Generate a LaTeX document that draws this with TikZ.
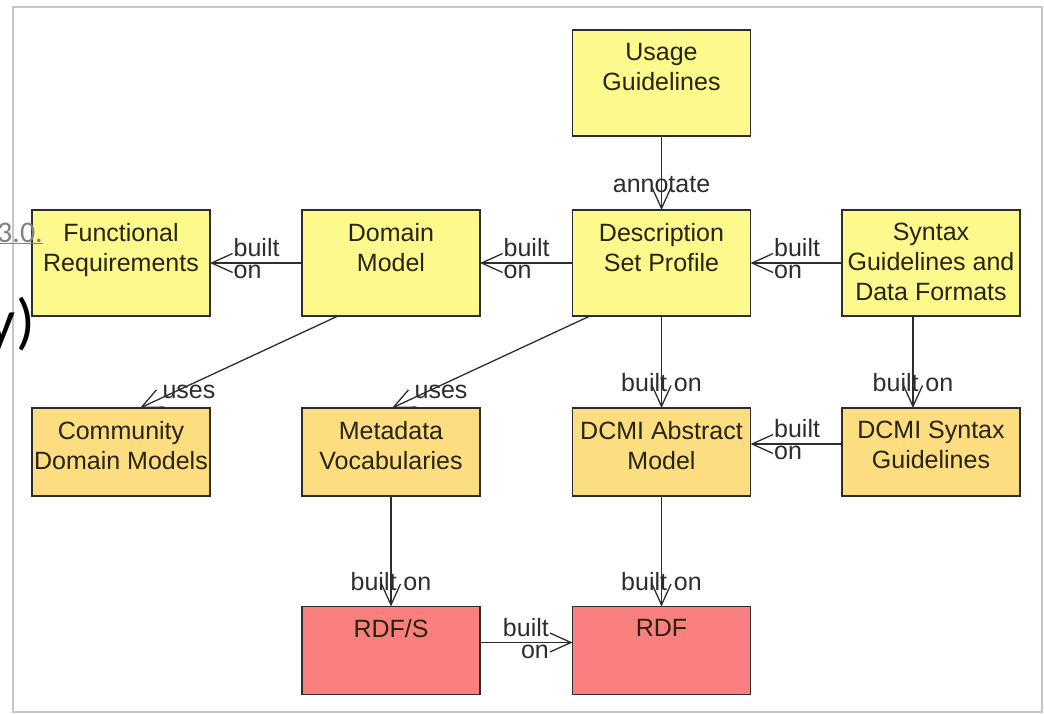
\documentclass[tikz,border=0pt]{standalone}
\usepackage{fontspec}
\setmainfont{Liberation Sans}
\newfontfamily\pagefont{Carlito}
\usetikzlibrary{arrows.meta}
\definecolor{boxyellow}{RGB}{252,250,140}
\definecolor{boxorange}{RGB}{252,222,128}
\definecolor{boxred}{RGB}{250,128,128}
\definecolor{inktext}{RGB}{40,35,15}
\definecolor{inkline}{RGB}{45,45,45}

\begin{document}
\begin{tikzpicture}[x=1pt,y=-1pt,
    box/.style={draw=inkline,line width=1.4pt,minimum width=178pt,inner sep=0pt,outer sep=0pt},
    txt/.style={anchor=north,yshift=-13pt,inner sep=0pt,align=center,text=inktext,
      font=\fontsize{25}{30}\selectfont},
    ylw/.style={box,minimum height=106pt,fill=boxyellow,label={[txt]90:{#1}}},
    org/.style={box,minimum height=88pt,fill=boxorange,label={[txt]90:{#1}}},
    red/.style={box,minimum height=88pt,fill=boxred,label={[txt]90:{#1}}},
    conn/.style={draw=inkline,line width=1.3pt,
      -{Straight Barb[length=21pt,width=19pt,line width=1.3pt]}},
    lbl/.style={inner sep=0pt,text=inkline,font=\fontsize{25}{22}\selectfont},
  ]
  \useasboundingbox (0,0) rectangle (1044,714);
  \draw[gray!45,line width=2.5pt] (13,7) rectangle (1042,712);

  \node[ylw={Usage\\Guidelines}] (usage) at (661.5,83) {};
  \node[ylw={Functional\\Requirements}] (fr) at (121,263) {};
  \node[ylw={Domain\\Model}] (dm) at (391,263) {};
  \node[ylw={Description\\Set Profile}] (dsp) at (661.5,263) {};
  \node[ylw={Syntax\\Guidelines and\\Data Formats}] (syn) at (931,263) {};
  \node[org={Community\\Domain Models}] (cdm) at (121,452) {};
  \node[org={Metadata\\Vocabularies}] (mv) at (391,452) {};
  \node[org={DCMI Abstract\\Model}] (dam) at (661.5,452) {};
  \node[org={DCMI Syntax\\Guidelines}] (dsg) at (931,452) {};
  \node[red={RDF/S}] (rdfs) at (391,650.5) {};
  \node[red={RDF}] (rdf) at (661.5,650.5) {};

  \draw[conn] (usage) -- node[lbl,at end,yshift=25pt]{annotate} (dsp);
  \draw[conn] (dm) -- node[lbl,at end,anchor=west,xshift=23pt,yshift=4pt,align=left]{built\\on} (fr);
  \draw[conn] (dsp) -- node[lbl,at end,anchor=west,xshift=23pt,yshift=4pt,align=left]{built\\on} (dm);
  \draw[conn] (syn) -- node[lbl,at end,anchor=west,xshift=23pt,yshift=4pt,align=left]{built\\on} (dsp);
  \draw[conn] ([xshift=-53pt]dm.south) -- node[lbl,at end,xshift=49pt,yshift=16pt]{uses} ([xshift=19pt]cdm.north);
  \draw[conn] ([xshift=-71.5pt]dsp.south) -- node[lbl,at end,xshift=49pt,yshift=16pt]{uses} ([xshift=1pt]mv.north);
  \draw[conn] (dsp) -- node[lbl,at end,yshift=25pt]{built on} (dam);
  \draw[conn] ([xshift=-18pt]syn.south) -- node[lbl,at end,yshift=25pt]{built on} ([xshift=-18pt]dsg.north);
  \draw[conn] ([yshift=8pt]dsg.west) -- node[lbl,at end,anchor=west,xshift=23pt,yshift=4pt,align=left]{built\\on} ([yshift=8pt]dam.east);
  \draw[conn] (mv) -- node[lbl,at end,yshift=25pt]{built on} (rdfs);
  \draw[conn] (dam) -- node[lbl,at end,yshift=25pt]{built on} (rdf);
  \draw[conn] ([yshift=8pt]rdfs.east) -- node[lbl,at end,anchor=east,xshift=-23pt,yshift=4pt,align=right]{built\\on} ([yshift=8pt]rdf.west);

  % page text showing through on the left
  \node[anchor=base east,inner sep=0pt,text=gray,
    font=\pagefont\fontsize{30}{36}\selectfont] (ver) at (43,242) {\underline{3.0.}};
  \node[anchor=base east,inner sep=0pt,
    font=\pagefont\fontsize{62}{70}\selectfont] (cut) at (35,342) {y)};
\end{tikzpicture}
\end{document}
